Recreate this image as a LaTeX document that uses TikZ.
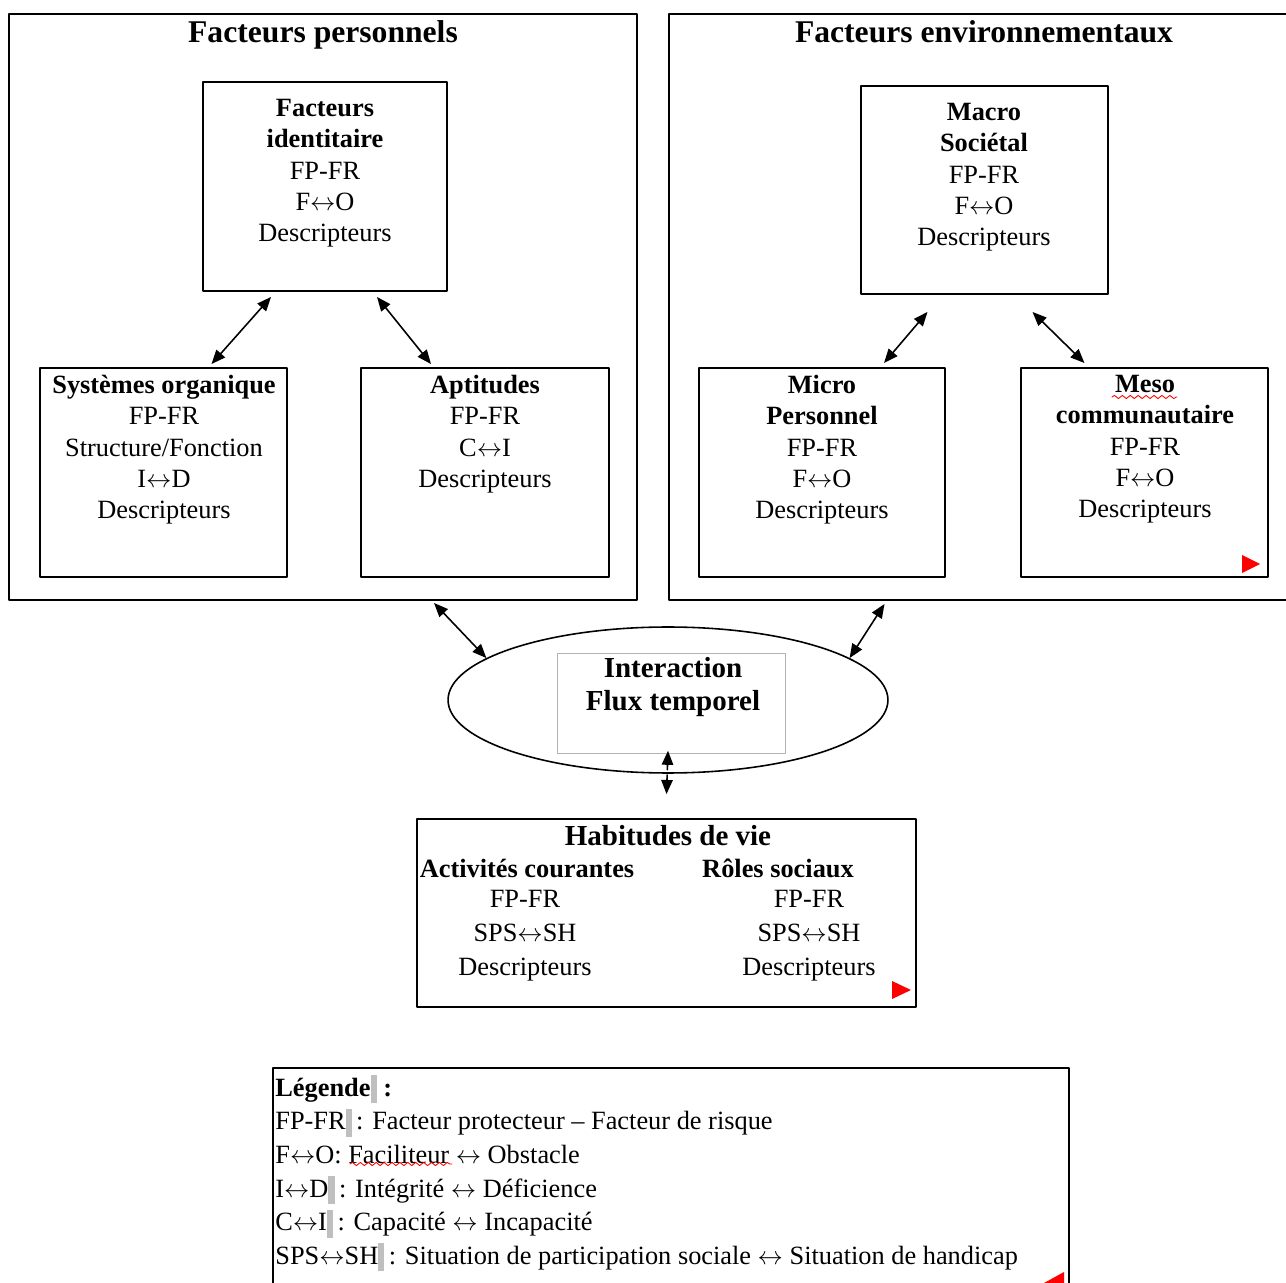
\documentclass[tikz,border=0pt]{standalone}
\usepackage{fontspec}
\setmainfont{Liberation Serif}
\usetikzlibrary{arrows.meta}
\usetikzlibrary{shapes.geometric}
\usetikzlibrary{fit,calc}
\usetikzlibrary{decorations.pathmorphing}

\newcommand{\fld}{\textcolor{black!25}{\rule[-4pt]{3.5pt}{16pt}}}
\newcommand{\lra}{\ensuremath{\leftrightarrow}}

\begin{document}
\begin{tikzpicture}[x=0.02cm,y=-0.02cm,line cap=round,line join=round,>={Triangle[length=8pt,width=6.5pt]},
  box/.style={draw,line width=1.1pt,inner sep=0pt},
  ttl/.style={font=\fontsize{18}{21}\selectfont\bfseries,anchor=base,inner sep=0pt},
  txt/.style={font=\fontsize{15}{17.8}\selectfont,align=center,anchor=north,inner sep=0pt},
  dbl/.style={<->,line width=0.9pt},
  wavy/.style={red,line width=0.5pt,decorate,decoration={snake,amplitude=0.9pt,segment length=4.5pt}}]
        \useasboundingbox (0,0) rectangle (1286,1283);
        % \draw [color=black!20] (0,0) grid[step=100] (1286,1283);
        \node[box,fit={(9,14) (637,600)}] (pers) {};
        \node[box,fit={(669,14) (1300,600)}] (env) {};
        \node[ttl] (persT) at (323,43) {Facteurs personnels};
        \node[ttl] (envT) at (984,43) {Facteurs environnementaux};
        \node[box,fit={(203,82) (447,291)}] (ident) {};
        \node[txt] (identT) at (325,99) {\textbf{Facteurs}\\\textbf{identitaire}\\FP-FR\\F\lra O\\Descripteurs};
        \node[box,fit={(861,86) (1108,294)}] (macro) {};
        \node[txt] (macroT) at (984,103) {\textbf{Macro}\\\textbf{Sociétal}\\FP-FR\\F\lra O\\Descripteurs};
        \node[box,fit={(40,368) (287,577)}] (sys) {};
        \node[txt] (sysT) at (164,375) {\textbf{Systèmes organique}\\FP-FR\\Structure/Fonction\\I\lra D\\Descripteurs};
        \node[box,fit={(361,368) (609,577)}] (apt) {};
        \node[txt] (aptT) at (485,375) {\textbf{Aptitudes}\\FP-FR\\C\lra I\\Descripteurs};
        \node[box,fit={(699,368) (945,577)}] (micro) {};
        \node[txt] (microT) at (822,375) {\textbf{Micro}\\\textbf{Personnel}\\FP-FR\\F\lra O\\Descripteurs};
        \node[box,fit={(1021,368) (1268,577)}] (meso) {};
        \node[txt] (mesoT) at (1145,375) {\textbf{Meso}\\\textbf{communautaire}\\FP-FR\\F\lra O\\Descripteurs};
        \fill[red] (1242,555) -- (1260,564) -- (1242,573) -- cycle;
        \draw[wavy] (1112,397) -- (1177,397);
        % interaction
        \node[draw,ellipse,line width=0.9pt,minimum width=8.8cm,minimum height=2.92cm,inner sep=0pt] (inter) at (668,700) {};
        \node[draw=black!30,line width=0.5pt,fit={(557,653) (785,753)},inner sep=0pt] (interbox) {};
        \node[txt,font=\fontsize{16.5}{18.7}\selectfont\bfseries] (interT) at (673,657) {Interaction\\Flux temporel};
        % habitudes
        \node[box,fit={(417,819) (916,1007)}] (hab) {};
        \node[ttl,font=\fontsize{16.5}{19}\selectfont\bfseries] (habT) at (668,846) {Habitudes de vie};
        \node[ttl,font=\fontsize{15}{18}\selectfont\bfseries] (actH) at (527,878) {Activités courantes};
        \node[ttl,font=\fontsize{15}{18}\selectfont\bfseries] (rolH) at (778,878) {Rôles sociaux};
        \node[txt,font=\fontsize{15}{19.2}\selectfont] (actT) at (525,890) {FP-FR\\SPS\lra SH\\Descripteurs};
        \node[txt,font=\fontsize{15}{19.2}\selectfont] (rolT) at (809,890) {FP-FR\\SPS\lra SH\\Descripteurs};
        \fill[red] (892,981) -- (911,990) -- (892,999) -- cycle;
        % legende
        \node[box,fit={(273,1068) (1069,1300)}] (leg) {};
        \node[anchor=north west,inner sep=0pt,align=left,font=\fontsize{15}{19.1}\selectfont] (legT) at (275,1075)
          {\textbf{Légende\fld\ :}\\FP-FR\fld\,: Facteur protecteur – Facteur de risque\\F\lra O: Faciliteur \lra\ Obstacle\\I\lra D\fld\,: Intégrité \lra\ Déficience\\C\lra I\fld\,: Capacité \lra\ Incapacité\\SPS\lra SH\fld\,: Situation de participation sociale \lra\ Situation de handicap};
        \draw[wavy] (350,1164) -- (452,1164);
        \fill[red] (1044,1283) -- (1064,1272) -- (1064,1283) -- cycle;
        % liens
        \draw[dbl] ($(ident.south)+(-54,5)$) -- ($(sys.north)+(48,-3)$);
        \draw[dbl] ($(ident.south)+(52,5)$) -- ($(apt.north)+(-54,-3)$);
        \draw[dbl] ($(macro.south)+(-57,17)$) -- ($(micro.north)+(62,-4)$);
        \draw[dbl] ($(macro.south)+(48,17)$) -- ($(meso.north)+(-60,-4)$);
        \draw[dbl] ($(pers.south)+(111,2)$) -- (inter.167);
        \draw[dbl] ($(env.south)+(-100,3)$) -- (inter.13);
        \draw[dbl,dashed] ($(inter.south)+(0,-23)$) -- ($(hab.north)+(0,-24)$);
\end{tikzpicture}
\end{document}
